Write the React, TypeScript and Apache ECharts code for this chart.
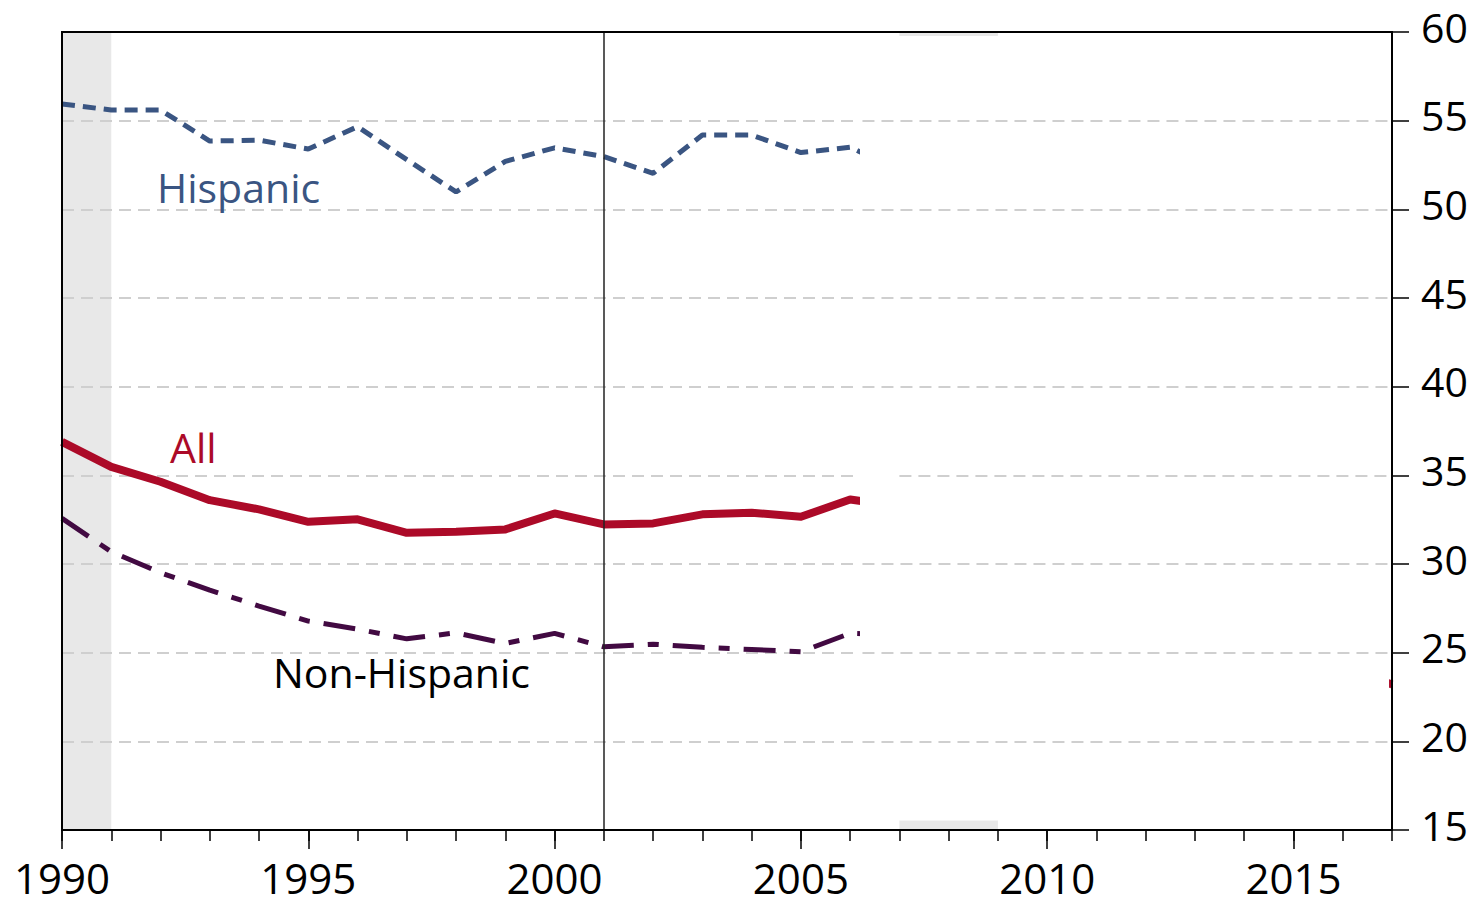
import React, { useEffect, useRef } from "react";
import * as echarts from "echarts";

// ---- data ----
const years = [1990, 1991, 1992, 1993, 1994, 1995, 1996, 1997, 1998, 1999, 2000, 2001, 2002, 2003, 2004, 2005, 2006, 2007];
const hispanic = [55.94, 55.6, 55.6, 53.85, 53.9, 53.4, 54.66, 52.8, 50.98, 52.7, 53.47, 52.97, 52.03, 54.19, 54.19, 53.2, 53.5, 52.2];
const allRate = [36.89, 35.48, 34.64, 33.6, 33.08, 32.38, 32.52, 31.76, 31.82, 31.95, 32.85, 32.23, 32.29, 32.8, 32.89, 32.66, 33.64, 33.25];
const allTailYears = [2017];
const allTailValues = [23.2];
const nonHispanic = [32.57, 30.69, 29.51, 28.53, 27.63, 26.78, 26.33, 25.78, 26.12, 25.52, 26.09, 25.33, 25.48, 25.3, 25.18, 25.05, 26.09, 26.0];
const recessions: [number, number][] = [[1990, 1991], [2007, 2009]];
const eventYears = [2001];
const xMin = 1990;
const xMax = 2017;
const xLabelYears = [1990, 1995, 2000, 2005, 2010, 2015];
const allYearTicks = [1990, 1991, 1992, 1993, 1994, 1995, 1996, 1997, 1998, 1999, 2000, 2001, 2002, 2003, 2004, 2005, 2006, 2007, 2008, 2009, 2010, 2011, 2012, 2013, 2014, 2015, 2016, 2017];
const yMin = 15;
const yMax = 60;
const yStep = 5;
const gridValues = [20, 25, 30, 35, 40, 45, 50, 55];
// extent of the blanked-out region of the original picture
const blankFrom = 2006.2;
const blankTo = 2016.94;
const blankTop = 59.77;
const blankBottom = 15.54;
const gridRestart: Record<number, number> = { 35: 2007 };

const FONT = "Open Sans";
const C_HISP = "#3A5582";
const C_ALL = "#AC0A28";
const C_NON = "#420A42";
const C_GRID = "#CFCFCF";

export default function App() {
  const ref = useRef<HTMLDivElement>(null);

  useEffect(() => {
    document.body.style.margin = "0";
    const chart = echarts.init(ref.current!, undefined, { renderer: "svg" });

    const gridLineStyle = { color: C_GRID, width: 2, type: [12, 7] as any };

    const option: any = {
      animation: false,
      backgroundColor: "#fff",
      textStyle: { fontFamily: FONT },
      grid: {
        left: 62,
        right: 87,
        top: 32,
        bottom: 74,
        show: true,
        z: 4,
        borderColor: "#000",
        borderWidth: 2,
        backgroundColor: "transparent",
      },
      xAxis: [
        {
          type: "value",
          min: xMin,
          max: xMax,
          position: "bottom",
          z: 4,
          axisLine: { show: true, lineStyle: { color: "#000", width: 2 } },
          axisTick: { show: true, customValues: allYearTicks, length: 11, lineStyle: { color: "#000", width: 1.5 } },
          axisLabel: { show: false },
          splitLine: { show: false },
        },
        {
          type: "value",
          min: xMin,
          max: xMax,
          position: "bottom",
          z: 4,
          axisLine: { show: false },
          axisTick: { show: true, customValues: xLabelYears, length: 19, lineStyle: { color: "#000", width: 1.5 } },
          axisLabel: {
            show: true,
            customValues: xLabelYears,
            fontSize: 42,
            lineHeight: 36,
            fontFamily: FONT,
            color: "#000",
            margin: 29,
            formatter: (v: number) => String(v),
          },
          splitLine: { show: false },
        },
      ],
      yAxis: {
        type: "value",
        position: "right",
        min: yMin,
        max: yMax,
        interval: yStep,
        z: 1,
        axisLine: { show: true, lineStyle: { color: "#000", width: 2 } },
        axisTick: { show: true, length: 17, inside: false, lineStyle: { color: "#000", width: 1.5 } },
        axisLabel: {
          fontSize: 41,
          fontFamily: FONT,
          color: "#000",
          margin: 29,
          verticalAlign: "middle",
          formatter: (v: number) => `{t|${v}}`,
          rich: {
            t: { fontSize: 41, fontFamily: FONT, color: "#000", lineHeight: 41, padding: [0, 0, 11, 0] },
          },
        },
        splitLine: { show: true, lineStyle: gridLineStyle },
      },
      series: [
        {
          name: "bands",
          type: "line",
          data: [],
          z: 0,
          markArea: {
            silent: true,
            z: 0,
            itemStyle: { color: "#E8E8E8" },
            data: recessions.map(([a, b]) => [{ xAxis: a }, { xAxis: b }]),
          },
        },
        {
          name: "Non-Hispanic",
          type: "line",
          z: 2,
          symbol: "none",
          data: years.map((y, i) => [y, nonHispanic[i]]),
          lineStyle: { color: C_NON, width: 5, type: [32, 14, 11, 14], cap: "butt" },
        },
        {
          name: "All",
          type: "line",
          z: 2,
          symbol: "none",
          data: years.map((y, i) => [y, allRate[i]]).concat(allTailYears.map((y, i) => [y, allTailValues[i]])),
          lineStyle: { color: C_ALL, width: 8, type: "solid", join: "round" },
        },
        {
          name: "Hispanic",
          type: "line",
          z: 2,
          symbol: "none",
          data: years.map((y, i) => [y, hispanic[i]]),
          lineStyle: { color: C_HISP, width: 5, type: [13, 8], cap: "butt" },
        },
        {
          name: "event",
          type: "line",
          data: [],
          z: 3,
          markLine: {
            silent: true,
            z: 3,
            symbol: ["none", "none"],
            label: { show: false },
            lineStyle: { color: "#222", width: 1.5, type: "solid" },
            data: eventYears.map((y) => ({ xAxis: y })),
          },
        },
        {
          name: "blank",
          type: "line",
          data: [],
          z: 5,
          markArea: {
            silent: true,
            z: 5,
            itemStyle: { color: "#fff", opacity: 1 },
            data: [[{ coord: [blankFrom, blankTop] }, { coord: [blankTo, blankBottom] }]],
          },
        },
        {
          name: "grid-redraw",
          type: "line",
          data: [],
          z: 6,
          markLine: {
            silent: true,
            z: 6,
            symbol: ["none", "none"],
            label: { show: false },
            lineStyle: gridLineStyle,
            data: gridValues.map((v) => [
              { coord: [gridRestart[v] ?? blankFrom + 0.05, v] },
              { coord: [xMax, v] },
            ]),
          },
        },
      ],
      graphic: [
        {
          type: "text",
          x: 157,
          y: 187,
          z: 10,
          style: { text: "Hispanic", fill: C_HISP, font: `41px "${FONT}"`, textVerticalAlign: "middle", textAlign: "left" },
        },
        {
          type: "text",
          x: 170,
          y: 447,
          z: 10,
          style: { text: "All", fill: C_ALL, font: `41px "${FONT}"`, textVerticalAlign: "middle", textAlign: "left" },
        },
        {
          type: "text",
          x: 273,
          y: 672,
          z: 10,
          style: { text: "Non-Hispanic", fill: "#000", font: `41px "${FONT}"`, textVerticalAlign: "middle", textAlign: "left" },
        },
      ],
    };

    chart.setOption(option);
    return () => chart.dispose();
  }, []);

  return <div ref={ref} style={{ width: 1479, height: 904 }} />;
}
